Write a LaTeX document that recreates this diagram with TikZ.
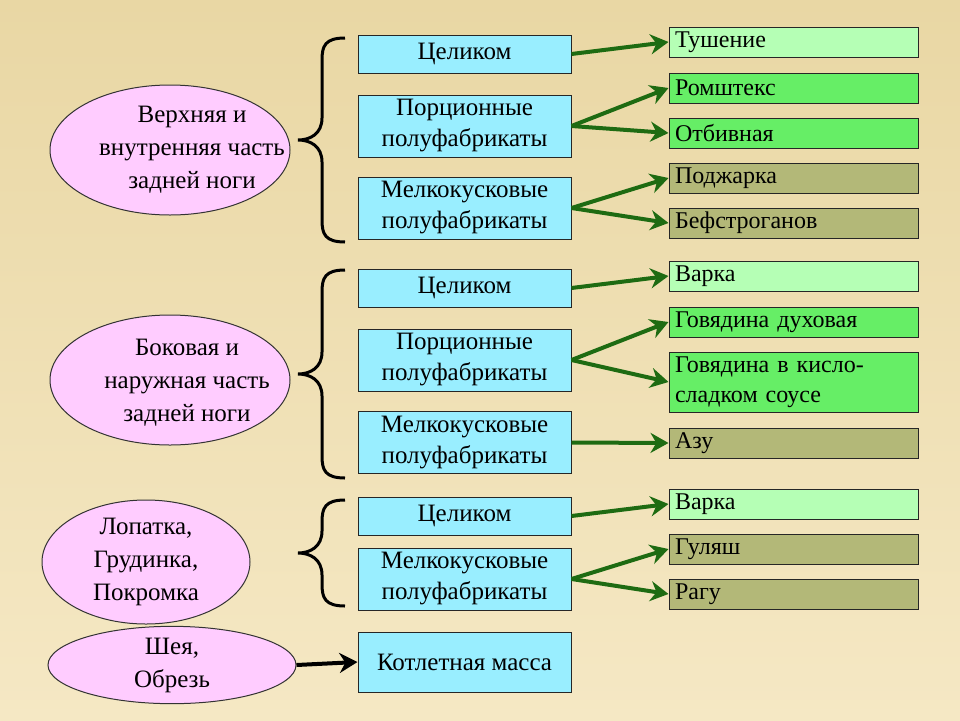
\documentclass[tikz,border=0pt]{standalone}
\usepackage{fontspec}
\setmainfont{Liberation Serif}
\newfontfamily\serf{Liberation Serif}
\usetikzlibrary{shapes.geometric,arrows.meta}
\definecolor{bgtop}{HTML}{E9D7A4}
\definecolor{bgbot}{HTML}{F5E8C4}
\definecolor{cyanbox}{HTML}{99EEFF}
\definecolor{lgreen}{HTML}{B5FFB5}
\definecolor{mgreen}{HTML}{66EE66}
\definecolor{olive}{HTML}{B3B878}
\definecolor{pinkel}{HTML}{FFCCFF}
\definecolor{arrgreen}{HTML}{1E6B12}
\begin{document}
\begin{tikzpicture}[x=1pt,y=-1pt,
  ell/.style={ellipse,draw=black!80,line width=1pt,fill=pinkel,inner sep=0pt,align=center,font=\serf\fontsize{25}{32}\selectfont},
  mid/.style={draw=black!85,line width=1pt,fill=cyanbox,minimum width=213pt,align=center,font=\serf\fontsize{25}{31}\selectfont,inner sep=0pt},
  res/.style={draw=black!85,line width=1pt,minimum width=249pt,align=left,text width=237pt,font=\serf\fontsize{24}{30}\selectfont,inner sep=0pt},
  arr/.style={draw=arrgreen,line width=4pt,-{Stealth[length=18pt,width=20pt]}},
  br/.style={draw=black,line width=3pt},
  txt/.style={font=\serf\fontsize{25}{33}\selectfont,align=center}]
\fill[top color=bgtop,bottom color=bgbot] (0,0) rectangle (960,720);
\useasboundingbox (0,0) rectangle (960,720);
% ellipses
\node[ell,minimum width=240pt,minimum height=130pt] (e1) at (170,150) {};
\node[txt] at (192,150) {Верхняя и\\внутренняя часть\\задней ноги};
\node[ell,minimum width=240pt,minimum height=130pt] (e2) at (170,380) {};
\node[txt] at (187,383) {Боковая и\\наружная часть\\задней ноги};
\node[ell,minimum width=208pt,minimum height=115pt,font=\serf\fontsize{25}{33}\selectfont] (e3) at (146,562) {Лопатка,\\Грудинка,\\Покромка};
\node[ell,minimum width=248pt,minimum height=52pt,font=\serf\fontsize{25}{33}\selectfont] (e4) at (172,665) {Шея,\\Обрезь};
% braces
\foreach \a/\b in {38/242,270/478,500/606}{
  \pgfmathsetmacro{\m}{(\a+\b)/2}
  \draw[br] (345,\a) .. controls (325,\a) and (322,\a+8) .. (322,\a+22) -- (322,\m-22) .. controls (322,\m-6) and (310,\m) .. (298,\m)
     .. controls (310,\m) and (322,\m+6) .. (322,\m+22) -- (322,\b-22) .. controls (322,\b-8) and (325,\b) .. (345,\b);
}
% middle boxes
\node[mid,minimum height=38pt] (m1) at (464.5,54) {Целиком};
\node[mid,minimum height=62pt] (m2) at (464.5,126) {Порционные\\полуфабрикаты};
\node[mid,minimum height=62pt] (m3) at (464.5,208) {Мелкокусковые\\полуфабрикаты};
\node[mid,minimum height=38pt] (m4) at (464.5,288) {Целиком};
\node[mid,minimum height=62pt] (m5) at (464.5,360) {Порционные\\полуфабрикаты};
\node[mid,minimum height=62pt] (m6) at (464.5,442.5) {Мелкокусковые\\полуфабрикаты};
\node[mid,minimum height=38pt] (m7) at (464.5,516) {Целиком};
\node[mid,minimum height=62pt] (m8) at (464.5,579) {Мелкокусковые\\полуфабрикаты};
\node[mid,minimum height=60pt] (m9) at (464.5,662) {Котлетная масса};
% result boxes
\node[res,fill=lgreen,minimum height=30pt] (r1) at (793.5,42) {Тушение};
\node[res,fill=mgreen,minimum height=30pt] (r2) at (793.5,88) {Ромштекс};
\node[res,fill=mgreen,minimum height=30pt] (r3) at (793.5,133) {Отбивная};
\node[res,fill=olive,minimum height=30pt] (r4) at (793.5,178) {Поджарка};
\node[res,fill=olive,minimum height=30pt] (r5) at (793.5,223) {Бефстроганов};
\node[res,fill=lgreen,minimum height=30pt] (r6) at (793.5,276) {Варка};
\node[res,fill=mgreen,minimum height=30pt] (r7) at (793.5,322) {Говядина духовая};
\node[res,fill=mgreen,minimum height=60pt] (r8) at (793.5,382) {Говядина в кисло-\\сладком соусе};
\node[res,fill=olive,minimum height=30pt] (r9) at (793.5,443) {Азу};
\node[res,fill=lgreen,minimum height=30pt] (r10) at (793.5,504) {Варка};
\node[res,fill=olive,minimum height=30pt] (r11) at (793.5,549) {Гуляш};
\node[res,fill=olive,minimum height=30pt] (r12) at (793.5,594) {Рагу};
% arrows
\foreach \s/\t in {m1/r1,m2/r2,m2/r3,m3/r4,m3/r5,m4/r6,m5/r7,m5/r8,m6/r9,m7/r10,m8/r11,m8/r12}
  \draw[arr] (\s.east) -- (\t.west);
\draw[line width=4pt,black,-{Stealth[length=18pt,width=20pt]}] (e4.east) -- (m9.west);
\end{tikzpicture}
\end{document}
